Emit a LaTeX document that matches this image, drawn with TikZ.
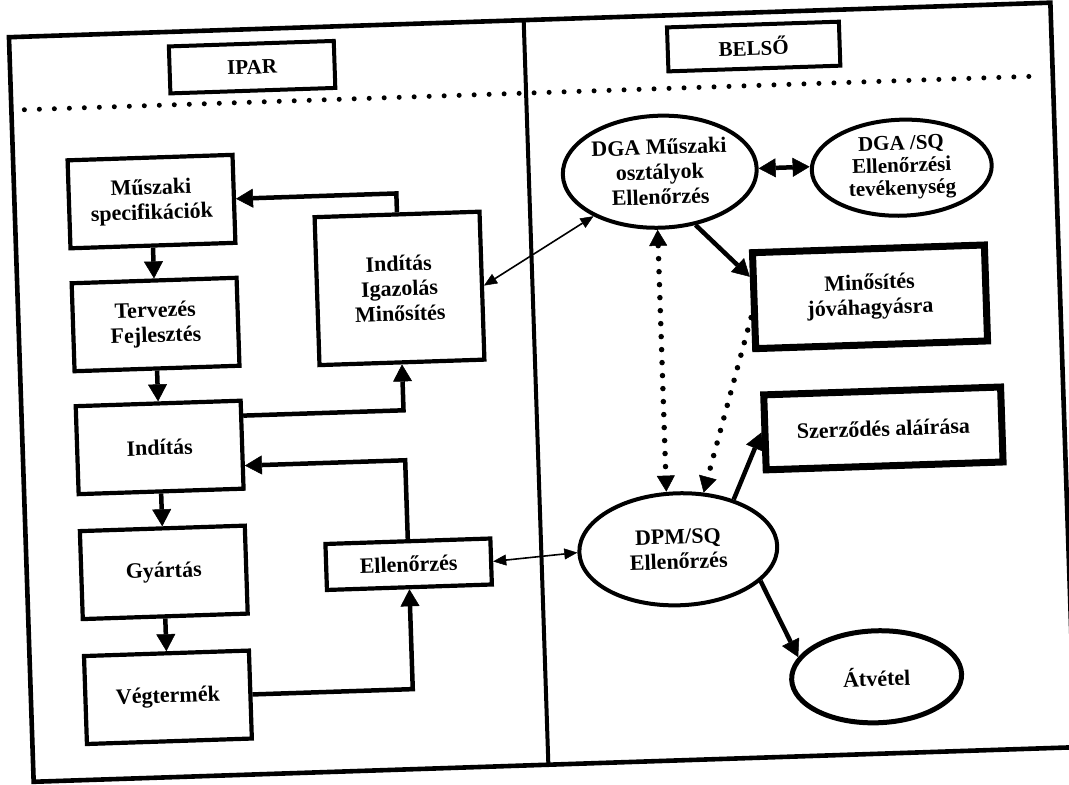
\documentclass[tikz,border=0pt]{standalone}
\usepackage{fontspec}
\setmainfont{Liberation Serif}
\usetikzlibrary{arrows.meta,shapes.geometric}
\newcommand\boxfont{\fontsize{22}{25}\selectfont\bfseries}
\begin{document}
\begin{tikzpicture}[x=1pt,y=1pt,
  framebox/.style={draw,line width=4.6pt},
  headbox/.style={draw,line width=4pt,font=\fontsize{21}{24}\selectfont\bfseries,inner sep=0pt},
  stepbox/.style={draw,line width=4.2pt,font=\boxfont,align=center,minimum width=165pt,minimum height=88pt,inner sep=0pt},
  heavybox/.style={draw,line width=7pt,font=\boxfont,align=center,inner sep=0pt},
  oval/.style={ellipse,draw,line width=4pt,font=\boxfont,align=center,inner sep=-16pt},
  flow/.style={line width=4.5pt,-{Triangle[width=19pt,length=17pt,line width=0.5pt]}},
  flowboth/.style={line width=4.5pt,{Triangle[width=19pt,length=17pt,line width=0.5pt]}-{Triangle[width=19pt,length=17pt,line width=0.5pt]}},
  twoway/.style={line width=1.6pt,{Triangle[width=11pt,length=13pt,line width=0.5pt]}-{Triangle[width=11pt,length=13pt,line width=0.5pt]}},
  dotline/.style={line width=5.5pt,line cap=round,dash pattern=on 0pt off 13pt},
  dothead/.style={-{Triangle[width=18pt,length=16pt,line width=0.5pt]}},
  dotheads/.style={{Triangle[width=18pt,length=16pt,line width=0.5pt]}-{Triangle[width=18pt,length=16pt,line width=0.5pt]}},
]
\fill[white] (0,0) rectangle (1069,785);
\useasboundingbox (0,0) rectangle (1069,785);
\begin{scope}[rotate around={1.9:(534,393)},transform shape]
\begin{scope}[shift={(0,785)}]
  % outer frame, column divider and header separator
  \draw[framebox] (21,-20) rectangle (1063,-765);
  \draw[line width=4pt] (536,-20) -- (536,-765);
  \draw[line width=5pt,line cap=round,dash pattern=on 0pt off 15pt] (34,-93) -- (1049,-93);

  % column headings
  \node[headbox,minimum width=165pt,minimum height=47pt] (ipar) at (263,-58) {IPAR};
  \node[headbox,minimum width=172pt,minimum height=44pt] (belso) at (765,-54) {BELSŐ};

  % industry side
  \node[stepbox] (spec) at (158,-189) {Műszaki\\specifikációk};
  \node[stepbox] (terv) at (158,-312) {Tervezés\\Fejlesztés};
  \node[stepbox] (ind) at (158,-435) {Indítás};
  \node[stepbox] (gyart) at (158,-560) {Gyártás};
  \node[stepbox] (veg) at (158,-685) {Végtermék};
  \node[stepbox,minimum height=148pt] (iim) at (403,-284) {Indítás\\Igazolás\\Minősítés};
  \node[stepbox,minimum height=46pt] (ell) at (403,-560) {Ellenőrzés};

  % internal side
  \node[oval,minimum width=194pt,minimum height=112pt] (dga) at (667,-176) {DGA Műszaki\\osztályok\\Ellenőrzés};
  \node[oval,minimum width=180pt,minimum height=96pt,font=\fontsize{21}{22.5}\selectfont\bfseries] (dgasq) at (909,-180) {DGA /SQ\\Ellenőrzési\\tevékenység};
  \node[heavybox,minimum width=232pt,minimum height=96pt] (minj) at (873,-308) {Minősítés\\jóváhagyásra};
  \node[heavybox,minimum width=237pt,minimum height=75pt] (szerz) at (882,-440) {Szerződés aláírása};
  \node[oval,minimum width=198pt,minimum height=112pt] (dpm) at (673,-554) {DPM/SQ\\Ellenőrzés};
  \node[oval,minimum width=170pt,minimum height=92pt,line width=5pt] (atv) at (867,-688) {Átvétel};

  % industry flow
  \draw[flow] (spec) -- (terv);
  \draw[flow] (terv) -- (ind);
  \draw[flow] (ind) -- (gyart);
  \draw[flow] (gyart) -- (veg);
  \draw[flow] (iim.north) |- (spec.east);
  \draw[flow] ([yshift=29pt]ind.east) -| (iim.south);
  \draw[flow] (ell.north) |- ([yshift=-21pt]ind.east);
  \draw[flow] (veg.east) -| (ell.south);

  % links across the divider
  \draw[twoway] (iim.east) -- (dga.212);
  \draw[twoway] (ell.east) -- (dpm.west);

  % internal flow
  \draw[flowboth] (dga.east) -- (dga.east -| dgasq.west);
  \draw[flow] (dga.-58) -- ([yshift=24pt]minj.west);
  \draw[flow] (dpm.40) -- (szerz.west);
  \draw[flow] (dpm.-23) -- (atv.164);
  \draw[dotline,dotheads] ([xshift=-4pt]dga.south) -- ([xshift=-4pt]dga.south |- dpm.north);
  \draw[dotline,dothead] (minj.188) -- (dpm.64);
\end{scope}
\end{scope}
\end{tikzpicture}
\end{document}
